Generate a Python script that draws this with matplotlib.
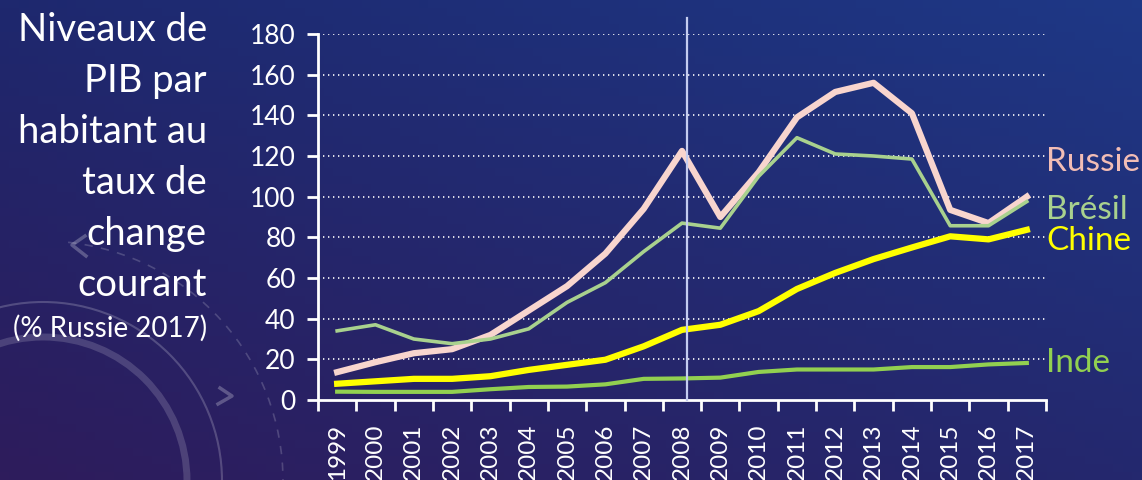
import numpy as np
import matplotlib
matplotlib.use("Agg")
import matplotlib.pyplot as plt
from matplotlib.patches import Arc

plt.rcParams['font.family'] = ['Lato', 'DejaVu Sans']

years = [str(y) for y in range(1999, 2018)]
russie = [13.7, 18.6, 23, 25, 32, 44, 56, 72, 94, 122.5, 90, 112, 139, 151.5, 156, 141, 93.5, 87, 100]
bresil = [34, 37, 30, 27.7, 30, 35, 48, 57.7, 73, 87, 84.5, 110, 129, 121, 120, 118.5, 85.7, 85.7, 97.6]
chine = [8, 9.2, 10.4, 10.4, 11.7, 14.8, 17.3, 19.8, 26.4, 34.5, 37, 43.7, 54.6, 62.5, 69.3, 75, 80.5, 79, 83.7]
inde = [4.1, 4, 4, 4, 5.3, 6.4, 6.6, 7.7, 10.4, 10.6, 11, 13.8, 15, 15, 15, 16.2, 16.2, 17.5, 18.2]
series_names = ["Russie", "Brésil", "Chine", "Inde"]
label_y = [117, 93.5, 78, 18]
crisis_x = 9.13
yticks = list(range(0, 181, 20))
title_lines = ["Niveaux de", "PIB par", "habitant au", "taux de", "change", "courant"]
subtitle = "(% Russie 2017)"

W, H = 1142, 480
fig = plt.figure(figsize=(W / 100, H / 100), dpi=100)

# background gradient
bg = fig.add_axes([0, 0, 1, 1], zorder=-10)
tl = np.array([0x2E, 0x1C, 0x5C]) / 255
tr = np.array([0x24, 0x28, 0x6E]) / 255
bl = np.array([0x1E, 0x28, 0x6E]) / 255
br = np.array([0x1E, 0x38, 0x86]) / 255
u = np.linspace(0, 1, 120)[None, :, None]
v = np.linspace(0, 1, 60)[:, None, None]
img = (1 - v) * ((1 - u) * tl + u * tr) + v * ((1 - u) * bl + u * br)
bg.imshow(img, aspect='auto', extent=[0, W, 0, H], origin='upper')
bg.set_xlim(0, W); bg.set_ylim(H, 0)
bg.axis('off')
# decorative arcs (bottom-left), pixel coordinates with y downward
cx, cy = 43, 481
bg.add_patch(Arc((cx, cy), 2 * 144, 2 * 144, theta1=180, theta2=360, lw=5, color='white', alpha=0.16))
bg.add_patch(Arc((cx, cy), 2 * 179, 2 * 179, theta1=180, theta2=360, lw=1.5, color='white', alpha=0.2))
bg.add_patch(Arc((cx, cy), 2 * 240, 2 * 240, theta1=276, theta2=360, lw=1.2, color='white', alpha=0.18, ls=(0, (5, 5))))
bg.plot([85, 72, 86], [236, 245, 256], color='white', alpha=0.25, lw=2.5)
bg.plot([220, 232, 218], [388, 396, 404], color='white', alpha=0.25, lw=2.5)

ax = fig.add_axes([318 / W, 1 - 400 / H, (1046 - 318) / W, (400 - 34) / H])
ax.set_facecolor('none')
x = np.arange(len(years))

ax.plot(x, inde, color='#92D050', lw=3, zorder=3)
ax.plot(x, chine, color='#FFFF00', lw=4.5, zorder=4)
ax.plot(x, bresil, color='#A9D18E', lw=2.6, zorder=5)
ax.plot(x, russie, color='#F8D5CE', lw=4.5, zorder=4.5)

ax.plot([crisis_x, crisis_x], [0, 188], color='#C4CCF0', lw=1.6, clip_on=False, zorder=6)

ax.set_xlim(-0.5, len(years) - 0.5)
ax.set_ylim(0, 180)
ax.set_yticks(yticks)
ax.set_yticklabels([str(t) for t in yticks])
for t in yticks[1:]:
    ax.axhline(t, color='white', lw=1.2, ls=(0, (0.8, 2.2)), zorder=1)

ax.set_xticks(x)
ax.set_xticklabels(years, rotation=90)
ax.set_xticks(np.arange(-0.5, len(years)), minor=True)
ax.tick_params(axis='x', which='major', length=0, pad=17, labelsize=17.5, colors='white')
ax.tick_params(axis='x', which='minor', length=8, width=2, color='white', direction='out')
ax.tick_params(axis='y', length=8, width=2, color='white', pad=8, labelsize=19, labelcolor='white')

for s in ['top', 'right']:
    ax.spines[s].set_visible(False)
for s in ['left', 'bottom']:
    ax.spines[s].set_color('white')
    ax.spines[s].set_linewidth(2)

label_colors = ['#F2BDB5', '#A9D18E', '#FFFF00', '#92D050']
for name, yv, c in zip(series_names, label_y, label_colors):
    ax.text(len(years) - 0.5, yv, name, color=c, fontsize=24, ha='left', va='center', clip_on=False)

for i, line in enumerate(title_lines):
    fig.text(207 / W, 1 - (30 + i * 51) / H, line, color='white', fontsize=27.5,
             ha='right', va='center')
fig.text(207 / W, 1 - 328 / H, subtitle, color='white', fontsize=20, ha='right', va='center')

fig.savefig('out.png', dpi=100)
